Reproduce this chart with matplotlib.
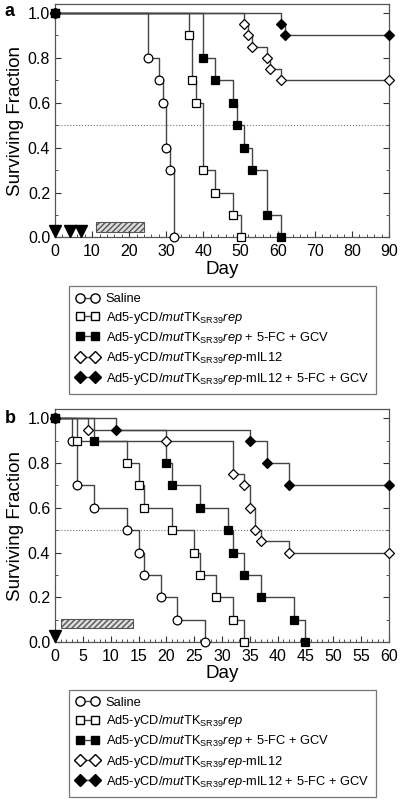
import matplotlib
matplotlib.use("Agg")
import matplotlib.pyplot as plt
from matplotlib.patches import Rectangle
from matplotlib.ticker import MultipleLocator

plt.rcParams['font.family'] = ['Liberation Sans', 'DejaVu Sans']
plt.rcParams['mathtext.fontset'] = 'custom'
plt.rcParams['mathtext.rm'] = 'Liberation Sans'
plt.rcParams['mathtext.it'] = 'Liberation Sans:italic'

# panel a: (day, surviving fraction) at each step
a_saline_d = [0, 25, 28, 29, 30, 31, 32]
a_saline_s = [1.0, 0.8, 0.7, 0.6, 0.4, 0.3, 0.0]
a_vec_d = [0, 36, 37, 38, 40, 43, 48, 50]
a_vec_s = [1.0, 0.9, 0.7, 0.6, 0.3, 0.2, 0.1, 0.0]
a_vecpro_d = [0, 40, 43, 48, 49, 51, 53, 57, 61]
a_vecpro_s = [1.0, 0.8, 0.7, 0.6, 0.5, 0.4, 0.3, 0.1, 0.0]
a_il12_d = [0, 51, 52, 53, 57, 58, 61, 90]
a_il12_s = [1.0, 0.95, 0.9, 0.85, 0.8, 0.75, 0.7, 0.7]
a_il12pro_d = [0, 61, 62, 90]
a_il12pro_s = [1.0, 0.95, 0.9, 0.9]
a_inject_days = [0, 4, 7]
a_prodrug = (11, 24)

# panel b
b_saline_d = [0, 3, 4, 7, 13, 15, 16, 19, 22, 27]
b_saline_s = [1.0, 0.9, 0.7, 0.6, 0.5, 0.4, 0.3, 0.2, 0.1, 0.0]
b_vec_d = [0, 4, 13, 15, 16, 21, 25, 26, 29, 32, 34]
b_vec_s = [1.0, 0.9, 0.8, 0.7, 0.6, 0.5, 0.4, 0.3, 0.2, 0.1, 0.0]
b_vecpro_d = [0, 7, 20, 21, 26, 31, 32, 34, 37, 43, 45]
b_vecpro_s = [1.0, 0.9, 0.8, 0.7, 0.6, 0.5, 0.4, 0.3, 0.2, 0.1, 0.0]
b_il12_d = [0, 6, 20, 32, 34, 35, 36, 37, 42, 60]
b_il12_s = [1.0, 0.95, 0.9, 0.75, 0.7, 0.6, 0.5, 0.45, 0.4, 0.4]
b_il12pro_d = [0, 11, 35, 38, 42, 60]
b_il12pro_s = [1.0, 0.95, 0.9, 0.8, 0.7, 0.7]
b_inject_days = [0]
b_prodrug = (1, 14)

vec = r'Ad5-yCD/$\mathit{mut}$TK$_{\mathrm{SR39}}$$\mathit{rep}$'
labels = ['Saline', vec, vec + ' + 5-FC + GCV', vec + '-mIL12',
          vec + '-mIL12 + 5-FC + GCV']
styles = [('o', 'white'), ('s', 'white'), ('s', 'black'), ('D', 'white'), ('D', 'black')]
sizes = [6.3, 5.8, 5.8, 5.5, 5.5]

fig = plt.figure(figsize=(4.0, 8.02), dpi=100)


def panel(rect, series, xmax, major, minor, inject, prodrug, rect_y, tri_y, letter, let_y, leg_y):
    ax = fig.add_axes(rect)
    for (d, s), (m, fc), ms in zip(series, styles, sizes):
        ax.step(d, s, where='post', color='#444444', lw=1.0, zorder=2)
        ax.plot(d, s, ls='none', marker=m, mfc=fc, mec='black', mew=0.9,
                ms=ms, clip_on=False, zorder=3)
    ax.axhline(0.5, color='#777777', ls=':', lw=0.8, zorder=1)
    ax.plot(inject, [tri_y] * len(inject), 'v', color='black', ms=9,
            clip_on=False, zorder=4)
    ax.add_patch(Rectangle((prodrug[0], rect_y[0]), prodrug[1] - prodrug[0],
                           rect_y[1] - rect_y[0], facecolor='#dddddd',
                           edgecolor='#555555', hatch='//////', lw=0.8))
    ax.set_xlim(0, xmax)
    ax.set_ylim(0, 1.04)
    ax.xaxis.set_major_locator(MultipleLocator(major))
    ax.xaxis.set_minor_locator(MultipleLocator(minor))
    ax.yaxis.set_major_locator(MultipleLocator(0.2))
    ax.yaxis.set_minor_locator(MultipleLocator(0.1))
    ax.yaxis.set_major_formatter(matplotlib.ticker.FormatStrFormatter('%.1f'))
    ax.tick_params(which='both', direction='in', right=True, labelsize=11.5,
                   color='#333333')
    ax.tick_params(which='major', length=4)
    ax.tick_params(which='minor', length=2.5)
    ax.tick_params(axis='x', pad=5)
    for sp in ax.spines.values():
        sp.set_color('#555555')
        sp.set_linewidth(0.9)
    ax.set_xlabel('Day', fontsize=13.5, labelpad=1)
    ax.set_ylabel('Surviving Fraction', fontsize=13.5, labelpad=3)
    fig.text(0.012, let_y, letter, fontsize=13,
             fontweight='bold', va='center')

    handles = [plt.Line2D([], [], color='#444444', lw=1.0, marker=m, mfc=fc,
                          mec='black', ms=ms * 1.05)
               for (m, fc), ms in zip(styles, sizes)]
    leg = fig.legend(handles, labels, loc='upper left',
                     bbox_to_anchor=(0.172, leg_y), numpoints=2,
                     handlelength=1.8, handletextpad=0.5, fontsize=9.3,
                     fancybox=False, edgecolor='#777777', borderpad=0.55,
                     labelspacing=0.33, borderaxespad=0, framealpha=1)
    leg.get_frame().set_linewidth(0.9)
    return ax


panel([0.1375, 0.704, 0.835, 0.291],
      [(a_saline_d, a_saline_s), (a_vec_d, a_vec_s), (a_vecpro_d, a_vecpro_s),
       (a_il12_d, a_il12_s), (a_il12pro_d, a_il12pro_s)],
      90, 10, 2, a_inject_days, a_prodrug, (0.022, 0.067), 0.03, 'a', 0.986, 0.643)

panel([0.1375, 0.1995, 0.835, 0.290],
      [(b_saline_d, b_saline_s), (b_vec_d, b_vec_s), (b_vecpro_d, b_vecpro_s),
       (b_il12_d, b_il12_s), (b_il12pro_d, b_il12pro_s)],
      60, 5, 1, b_inject_days, b_prodrug, (0.062, 0.104), 0.025, 'b', 0.478, 0.140)

fig.savefig('out.png', dpi=100)
